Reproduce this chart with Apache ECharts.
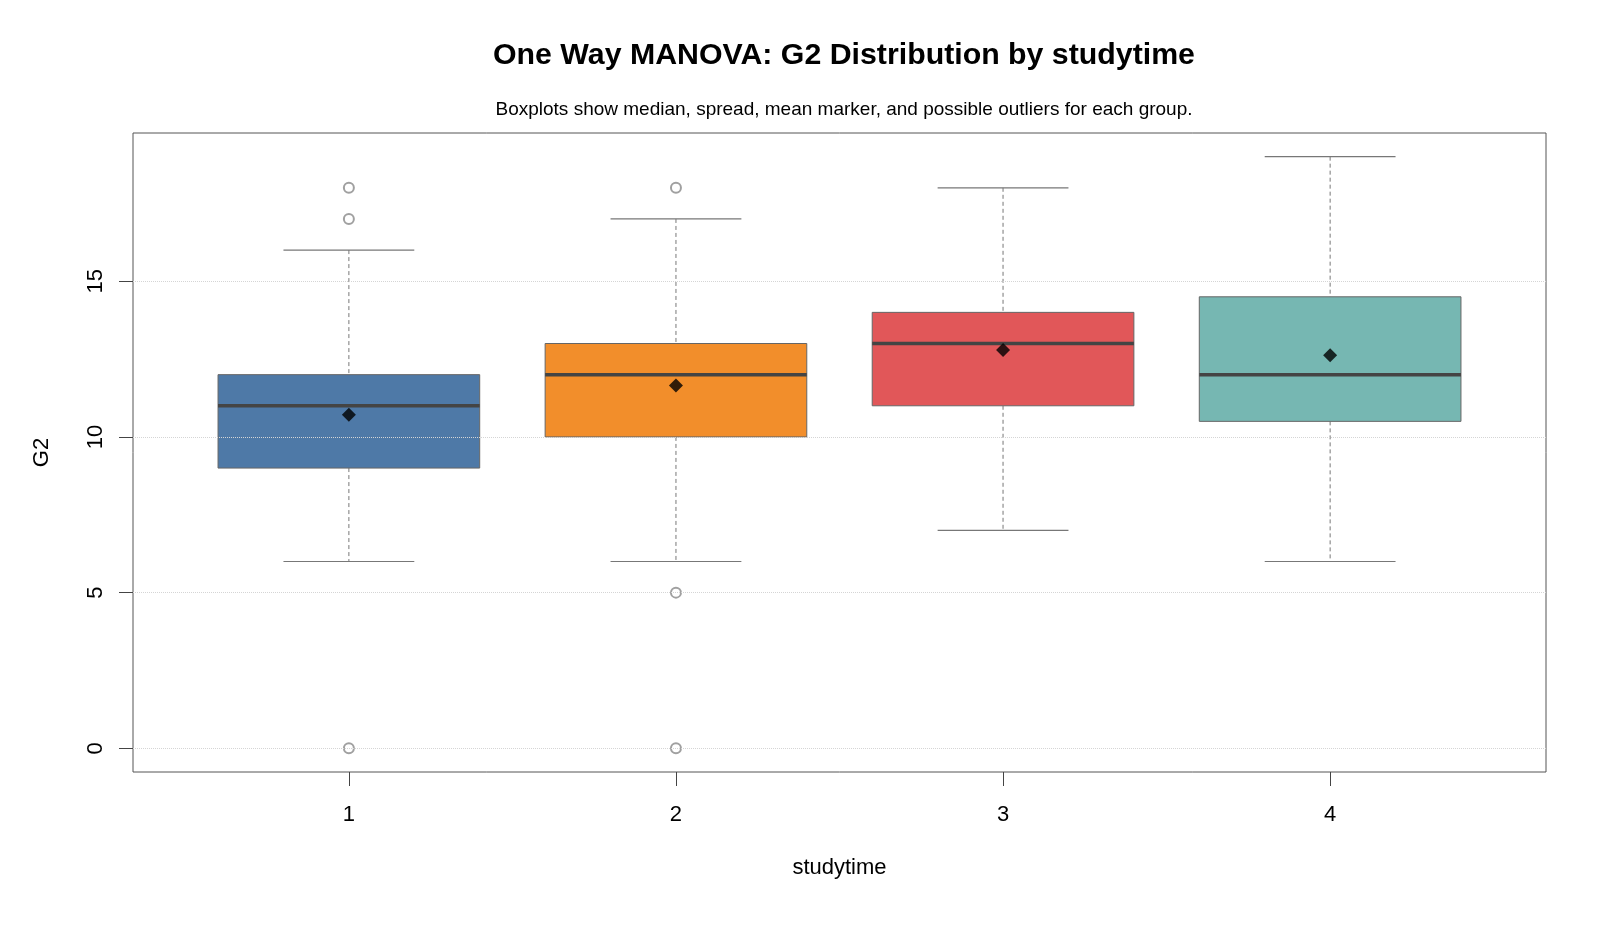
<!DOCTYPE html>
<html>
<head>
<meta charset="utf-8">
<title>G2 by studytime</title>
<script src="https://cdn.jsdelivr.net/npm/echarts@6/dist/echarts.min.js"></script>
<style>
  html, body { margin: 0; padding: 0; background: #fff; }
  #chart { width: 1600px; height: 933px; }
</style>
</head>
<body>
<div id="chart"></div>
<script>
// groups (studytime) and their box statistics
const groups = [1, 2, 3, 4];
const lowerWhisker = [6, 6, 7, 6];
const q1 = [9, 10, 11, 10.5];
const median = [11, 12, 13, 12];
const q3 = [12, 13, 14, 14.5];
const upperWhisker = [16, 17, 18, 19];
const means = [10.71, 11.65, 12.79, 12.62];
const outliers = [[1, 18], [1, 17], [1, 0], [2, 18], [2, 5], [2, 0]];
const boxColors = ["#4E79A7", "#F28E2B", "#E15759", "#76B7B2"];
const yTicks = [0, 5, 10, 15];

const FONT = "'Liberation Sans', Arial, sans-serif";

const boxData = groups.map((g, i) => [g, lowerWhisker[i], q1[i], median[i], q3[i], upperWhisker[i]]);

function renderBox(params, api) {
  const x = api.value(0);
  const half = 0.4, capHalf = 0.2;
  const pLow = api.coord([x, api.value(1)]);
  const pQ1 = api.coord([x, api.value(2)]);
  const pMed = api.coord([x, api.value(3)]);
  const pQ3 = api.coord([x, api.value(4)]);
  const pHigh = api.coord([x, api.value(5)]);
  const left = api.coord([x - half, 0])[0];
  const right = api.coord([x + half, 0])[0];
  const cl = api.coord([x - capHalf, 0])[0];
  const cr = api.coord([x + capHalf, 0])[0];
  const wStyle = { stroke: "#777", lineWidth: 1, lineDash: [4, 3] };
  const cStyle = { stroke: "#777", lineWidth: 1.2 };
  return {
    type: "group",
    children: [
      { type: "line", shape: { x1: pHigh[0], y1: pHigh[1], x2: pQ3[0], y2: pQ3[1] }, style: wStyle },
      { type: "line", shape: { x1: pQ1[0], y1: pQ1[1], x2: pLow[0], y2: pLow[1] }, style: wStyle },
      { type: "line", shape: { x1: cl, y1: pHigh[1], x2: cr, y2: pHigh[1] }, style: cStyle },
      { type: "line", shape: { x1: cl, y1: pLow[1], x2: cr, y2: pLow[1] }, style: cStyle },
      {
        type: "rect",
        shape: { x: left, y: pQ3[1], width: right - left, height: pQ1[1] - pQ3[1] },
        style: { fill: boxColors[params.dataIndex], stroke: "#666", lineWidth: 1 }
      },
      { type: "line", shape: { x1: left, y1: pMed[1], x2: right, y2: pMed[1] }, style: { stroke: "#444", lineWidth: 3.5 } }
    ]
  };
}

const chart = echarts.init(document.getElementById("chart"));
chart.setOption({
  animation: false,
  backgroundColor: "#fff",
  textStyle: { fontFamily: FONT },
  title: [
    {
      text: "One Way MANOVA: G2 Distribution by studytime",
      left: 839, top: 36, textAlign: "center",
      textStyle: { fontFamily: FONT, fontSize: 30.3, fontWeight: "bold", color: "#000" }
    },
    {
      text: "Boxplots show median, spread, mean marker, and possible outliers for each group.",
      left: 839, top: 95, textAlign: "center",
      textStyle: { fontFamily: FONT, fontSize: 19, fontWeight: "normal", color: "#000" }
    }
  ],
  grid: {
    left: 133, top: 133, right: 54, bottom: 161,
    show: true, borderColor: "#555", borderWidth: 1, backgroundColor: "transparent"
  },
  xAxis: {
    type: "value", min: 0.34, max: 4.66,
    name: "studytime", nameLocation: "middle", nameGap: 85,
    nameTextStyle: { fontFamily: FONT, fontSize: 22, color: "#000" },
    axisLine: { show: false, onZero: false },
    axisTick: { show: true, length: 14, lineStyle: { color: "#444" }, customValues: groups },
    axisLabel: { fontFamily: FONT, fontSize: 22, color: "#000", margin: 32, customValues: groups },
    splitLine: { show: false }
  },
  yAxis: {
    type: "value", min: -0.76, max: 19.76,
    name: "G2", nameLocation: "middle", nameGap: 80, nameRotate: 90,
    nameTextStyle: { fontFamily: FONT, fontSize: 22, color: "#000" },
    axisLine: { show: false, onZero: false },
    axisTick: { show: true, length: 14, lineStyle: { color: "#444" }, customValues: yTicks },
    axisLabel: { fontFamily: FONT, fontSize: 22, color: "#000", margin: 26, rotate: 90, customValues: yTicks },
    splitLine: { show: false }
  },
  series: [
    {
      type: "custom",
      renderItem: renderBox,
      data: boxData,
      encode: { x: 0, y: [1, 2, 3, 4, 5] },
      silent: true,
      z: 2,
      markLine: {
        silent: true, symbol: "none", label: { show: false },
        lineStyle: { color: "#d5d5d5", type: "dotted", width: 1 },
        data: yTicks.map(v => ({ yAxis: v }))
      }
    },
    {
      type: "scatter",
      data: outliers,
      symbol: "emptyCircle", symbolSize: 10,
      itemStyle: { color: "#888", borderColor: "#888", borderWidth: 1 },
      z: 3
    },
    {
      type: "scatter",
      data: groups.map((g, i) => [g, means[i]]),
      symbol: "diamond", symbolSize: 14,
      itemStyle: { color: "#000" },
      z: 4
    }
  ]
});
</script>
</body>
</html>
